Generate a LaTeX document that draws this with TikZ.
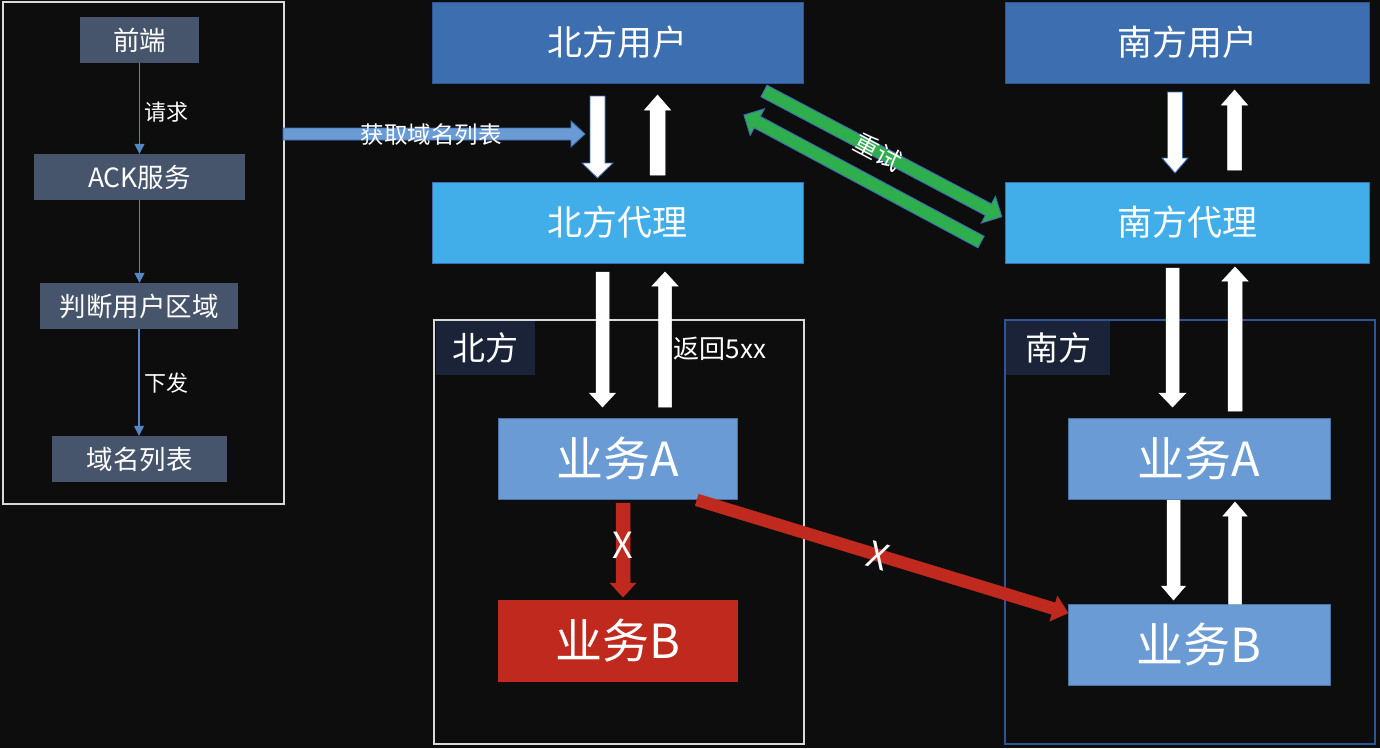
\documentclass[tikz,border=0pt]{standalone}
\usepackage{fontspec}
\newfontfamily\cjk{Noto Sans CJK SC}
\usetikzlibrary{calc,arrows.meta}
\definecolor{bg}{HTML}{0D0D0D}
\definecolor{slate}{HTML}{46546C}
\definecolor{thinblue}{HTML}{5585C4}
\definecolor{userblue}{HTML}{3D6EB0}
\definecolor{proxyblue}{HTML}{41AEEA}
\definecolor{bizblue}{HTML}{6A9BD4}
\definecolor{bizborder}{HTML}{4A70A4}
\definecolor{errred}{HTML}{C0291E}
\definecolor{okgreen}{HTML}{2FAE4E}
\definecolor{labfill}{HTML}{1B2338}
\definecolor{darkline}{HTML}{2F5597}
\definecolor{panelline}{HTML}{DADADA}
\newcommand\blockarrow[6]{%
  \draw[#1] let \p1=(#2), \p2=(#3),
    \n1={atan2(\y2-\y1,\x2-\x1)}, \n2={veclen(\x2-\x1,\y2-\y1)},
    \n3={\n2-#6}, \n4={\n1+90}, \n5={\n1-90} in
    ($(\p1)+(\n4:#4)$) -- ($(\p1)+(\n1:\n3)+(\n4:#4)$) --
    ($(\p1)+(\n1:\n3)+(\n4:#5)$) -- (\p2) --
    ($(\p1)+(\n1:\n3)+(\n5:#5)$) -- ($(\p1)+(\n1:\n3)+(\n5:#4)$) --
    ($(\p1)+(\n5:#4)$) -- cycle;}
\tikzset{
  leftbox/.style={fill=slate, text=white, inner sep=0pt, minimum height=46pt,
    font=\cjk\fontsize{26.5}{30}\selectfont},
  thinarrow/.style={draw=thinblue, line width=1.4pt, -{Triangle[length=10pt,width=10pt]}},
  smalllabel/.style={text=white, font=\cjk\fontsize{22}{26}\selectfont, inner sep=0pt},
  userbox/.style={fill=userblue, draw=darkline, line width=0.8pt, text=white, inner sep=0pt,
    minimum height=81pt, font=\cjk\fontsize{35}{40}\selectfont},
  proxybox/.style={fill=proxyblue, draw=userblue, line width=0.8pt, text=white, inner sep=0pt,
    minimum height=81pt, font=\cjk\fontsize{35}{40}\selectfont},
  bizbox/.style={fill=bizblue, draw=bizborder, line width=1pt, text=white, inner sep=0pt,
    minimum height=81pt, font=\cjk\fontsize{47}{52}\selectfont},
  errbox/.style={fill=errred, draw=errred, line width=1pt, text=white, inner sep=0pt,
    minimum height=81pt, font=\cjk\fontsize{47}{52}\selectfont},
  regionlab/.style={fill=labfill, text=white, inner sep=0pt, minimum height=54pt,
    font=\cjk\fontsize{33}{38}\selectfont},
  whitearrowb/.style={fill=white, draw=userblue, line width=0.9pt},
  whitearrow/.style={fill=white, draw=white, line width=0.5pt},
  redarrow/.style={fill=errred, draw=errred, line width=0.5pt},
  greenarrow/.style={fill=okgreen, draw=userblue, line width=1pt},
  bluearrow/.style={fill=bizblue, draw=userblue, line width=0.9pt},
}
\begin{document}
\begin{tikzpicture}[x=1pt,y=1pt,font=\cjk]
\fill[bg] (0,0) rectangle (1380,-748);
\useasboundingbox (0,0) rectangle (1380,-748);

% left panel
\draw[panelline, line width=1.5pt] (3,-2) rectangle (284,-504);
\node[leftbox, minimum width=119pt] (fe) at (139.5,-40) {前端};
\node[leftbox, minimum width=211pt] (ack) at (139.5,-177) {ACK服务};
\node[leftbox, minimum width=198pt] (pd) at (139,-306) {判断用户区域};
\node[leftbox, minimum width=175pt] (ym) at (139.5,-459) {域名列表};
\draw[thinarrow] (fe.south) -- (fe.south |- ack.north);
\draw[thinarrow] (ack.south) -- (ack.south |- pd.north);
\draw[thinarrow] (pd.south) -- (pd.south |- ym.north);
\node[smalllabel] (lq) at (166,-112) {请求};
\node[smalllabel] (lx) at (166,-383) {下发};

% containers
\draw[panelline, line width=1.5pt] (434,-320) rectangle (804,-744);
\draw[darkline, line width=1.5pt] (1005,-320) rectangle (1375,-744);
\node[regionlab, minimum width=99pt] (nlab) at (485.5,-348) {北方};
\node[regionlab, minimum width=104pt] (slab) at (1058,-348) {南方};

% boxes
\node[userbox, minimum width=371pt] (nu) at (617.5,-42.5) {北方用户};
\node[userbox, minimum width=364pt] (su) at (1187,-42.5) {南方用户};
\node[proxybox, minimum width=371pt] (np) at (617.5,-222.5) {北方代理};
\node[proxybox, minimum width=364pt] (sp) at (1187,-222.5) {南方代理};
\node[bizbox, minimum width=239pt] (na) at (617.5,-458.5) {业务A};
\node[errbox, minimum width=239pt] (nb) at (617.5,-640.5) {业务B};
\node[bizbox, minimum width=262pt] (sa) at (1199,-458.5) {业务A};
\node[bizbox, minimum width=262pt] (sb) at (1199,-644.5) {业务B};

% arrow end points
\coordinate (g0) at (283,-134);   \coordinate (g1) at (585,-134);
\coordinate (a0) at (597.5,-96);  \coordinate (a1) at (597.5,-178);
\coordinate (b0) at (657.5,-175); \coordinate (b1) at (657.5,-95);
\coordinate (c0) at (1175,-92);   \coordinate (c1) at (1175,-173);
\coordinate (d0) at (1234.5,-170);\coordinate (d1) at (1234.5,-90);
\coordinate (e0) at (602.5,-272); \coordinate (e1) at (602.5,-407);
\coordinate (f0) at (665,-407);   \coordinate (f1) at (665,-272);
\coordinate (h0) at (1172.5,-268);\coordinate (h1) at (1172.5,-407);
\coordinate (i0) at (1235,-411);  \coordinate (i1) at (1235,-267);
\coordinate (j0) at (1173.5,-500);\coordinate (j1) at (1173.5,-600);
\coordinate (k0) at (1235,-604);  \coordinate (k1) at (1235,-502);
\coordinate (r0) at (623,-503);   \coordinate (r1) at (623,-597);
\coordinate (s0) at (697,-500);   \coordinate (s1) at (1068,-613);
\coordinate (t0) at (764,-91);    \coordinate (t1) at (1001.7,-216.7);
\coordinate (u0) at (981,-242);   \coordinate (u1) at (744,-115);

\blockarrow{bluearrow}{g0}{g1}{6}{13}{14}
\blockarrow{whitearrowb}{a0}{a1}{7.5}{15.5}{15}
\blockarrow{whitearrow}{b0}{b1}{7.5}{13}{15}
\blockarrow{whitearrowb}{c0}{c1}{7.5}{13}{15}
\blockarrow{whitearrow}{d0}{d1}{7}{13}{15}
\blockarrow{whitearrow}{e0}{e1}{6.5}{13}{14}
\blockarrow{whitearrow}{f0}{f1}{6.5}{13}{14}
\blockarrow{whitearrow}{h0}{h1}{6.5}{13.5}{14}
\blockarrow{whitearrow}{i0}{i1}{7}{13}{14}
\blockarrow{whitearrow}{j0}{j1}{6.5}{12}{14}
\blockarrow{whitearrow}{k0}{k1}{6.5}{12}{14}
\blockarrow{redarrow}{r0}{r1}{7}{13}{14}
\blockarrow{redarrow}{s0}{s1}{6}{13}{15}
\blockarrow{greenarrow}{t0}{t1}{6.5}{15}{15}
\blockarrow{greenarrow}{u0}{u1}{6.5}{15}{15}

% labels on arrows
\node[smalllabel, font=\cjk\fontsize{23.5}{27}\selectfont] (lg) at (431,-135) {获取域名列表};
\node[smalllabel, font=\cjk\fontsize{26}{30}\selectfont] (lr) at (720,-349) {返回5xx};
\node[smalllabel, font=\cjk\fontsize{25}{28}\selectfont, rotate=-28] (lt) at (878,-152) {重试};
\node[smalllabel, font=\cjk\fontsize{36}{40}\selectfont] (lx1) at (623,-545) {X};
\node[smalllabel, font=\cjk\fontsize{36}{40}\selectfont, rotate=-17] (lx2) at (878,-556) {X};
\end{tikzpicture}
\end{document}
